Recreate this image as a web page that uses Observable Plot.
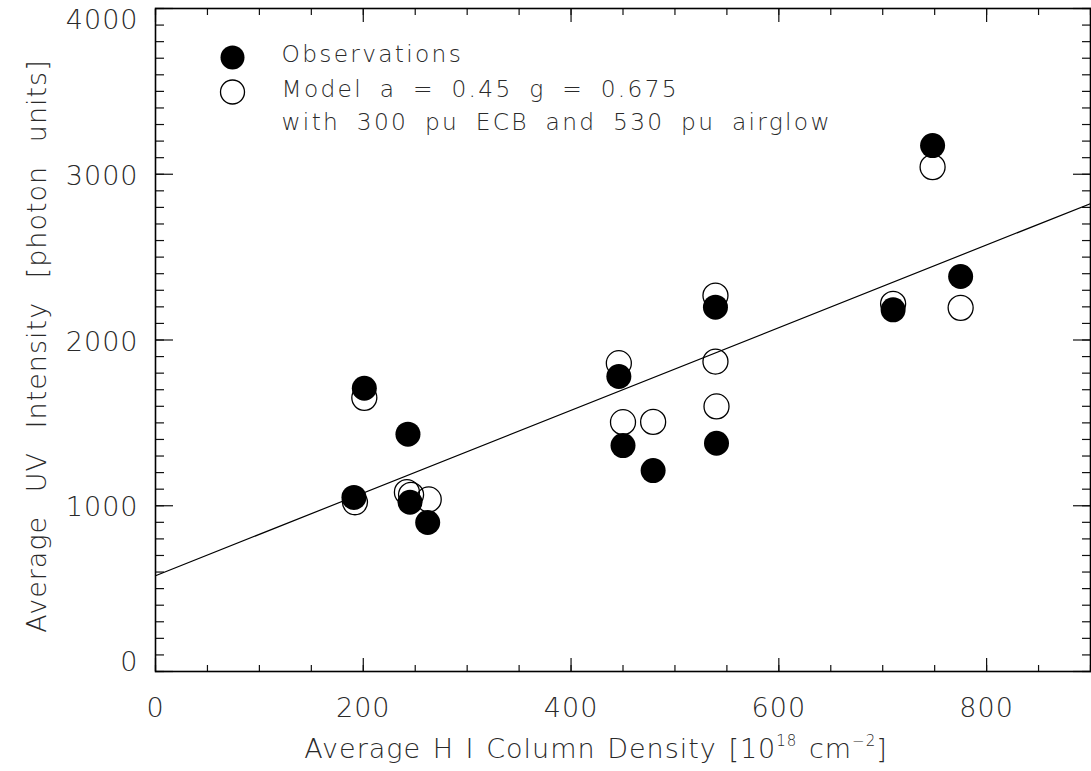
<!DOCTYPE html>
<html><head><meta charset="utf-8">
<script src="https://cdn.jsdelivr.net/npm/d3@7"></script>
<script src="https://cdn.jsdelivr.net/npm/@observablehq/plot@0.6"></script>
<style>body{margin:0;background:#fff}</style>
</head><body><div id="chart"></div>
<script>
// Observations (filled circles)
const obsX = [191, 201, 243, 245, 262, 446, 450, 479, 539, 540, 710, 748, 775];
const obsY = [1050, 1709, 1432, 1021, 899, 1780, 1363, 1212, 2198, 1377, 2182, 3173, 2383];
// Model a = 0.45 g = 0.675 (open circles)
const modelX = [192, 201, 242, 246, 263, 446, 450, 479, 539, 539, 540, 710, 748, 775];
const modelY = [1021, 1651, 1082, 1066, 1038, 1860, 1504, 1506, 2268, 1870, 1599, 2218, 3043, 2194];
// Fitted line
const lineX = [0, 900];
const lineY = [578, 2823];
// Ticks
const xMajor = [0, 200, 400, 600, 800];
const xMinor = d3.range(0, 901, 50);
const yMajor = [0, 1000, 2000, 3000, 4000];
const yMinor = d3.range(0, 4001, 100);
const xTickLabels = ["0", "200", "400", "600", "800"];
const yTickLabels = ["0", "1000", "2000", "3000", "4000"];
// Texts
const xTitle = "Average H I Column Density [10^18 cm^-2]";
const yTitle = "Average UV Intensity [photon units]";
const legendLabels = ["Observations", "Model a = 0.45 g = 0.675\nwith 300 pu ECB and 530 pu airglow"];

const obs = obsX.map((x, i) => ({x, y: obsY[i]}));
const model = modelX.map((x, i) => ({x, y: modelY[i]}));
const fit = lineX.map((x, i) => ({x, y: lineY[i]}));
const fmtX = d => xTickLabels[xMajor.indexOf(d)];
const fmtY = d => yTickLabels[yMajor.indexOf(d)];

const FONT = "DejaVu Sans";
const INK = "#2a2a2a";
const common = {label: null, fontSize: 27, fontWeight: 200, fontFamily: FONT, fill: INK};

const chart = Plot.plot({
  width: 1091, height: 771,
  marginLeft: 155, marginRight: 1, marginTop: 8, marginBottom: 100,
  x: {domain: [0, 900]},
  y: {domain: [0, 4000]},
  style: {fontFamily: FONT, background: "#fff", color: "#111"},
  marks: [
    // tick marks (inward)
    Plot.axisX({anchor: "bottom", ticks: xMinor, tickSize: -6, text: null, label: null, strokeWidth: 1.2}),
    Plot.axisX({anchor: "bottom", ticks: xMajor, tickSize: -13, text: null, label: null, strokeWidth: 1.2}),
    Plot.axisX({anchor: "top", ticks: xMinor, tickSize: -6, text: null, label: null, strokeWidth: 1.2}),
    Plot.axisX({anchor: "top", ticks: xMajor, tickSize: -13, text: null, label: null, strokeWidth: 1.2}),
    Plot.axisY({anchor: "left", ticks: yMinor, tickSize: -9, text: null, label: null, strokeWidth: 1.2}),
    Plot.axisY({anchor: "left", ticks: yMajor, tickSize: -18, text: null, label: null, strokeWidth: 1.2}),
    Plot.axisY({anchor: "right", ticks: yMinor, tickSize: -9, text: null, label: null, strokeWidth: 1.2}),
    Plot.axisY({anchor: "right", ticks: yMajor, tickSize: -18, text: null, label: null, strokeWidth: 1.2}),
    // tick labels
    Plot.axisX({anchor: "bottom", ticks: xMajor, tickSize: 0, tickPadding: 26, tickFormat: fmtX, ...common}),
    Plot.axisY({anchor: "left", ticks: yMajor.slice(1, 4), tickSize: 0, tickPadding: 17, tickFormat: fmtY, dy: 2, ...common}),
    Plot.axisY({anchor: "left", ticks: [yMajor[0]], tickSize: 0, tickPadding: 17, tickFormat: fmtY, dy: -9, ...common}),
    Plot.axisY({anchor: "left", ticks: [yMajor[4]], tickSize: 0, tickPadding: 17, tickFormat: fmtY, dy: 12, ...common}),
    Plot.frame({stroke: "#000", strokeWidth: 1.6}),
    // fitted line
    Plot.line(fit, {x: "x", y: "y", stroke: "#000", strokeWidth: 1.2, clip: true}),
    // data
    Plot.dot(model, {x: "x", y: "y", r: 12.5, stroke: "#000", strokeWidth: 1.3, fill: "none"}),
    Plot.dot(obs, {x: "x", y: "y", r: 12.5, fill: "#000", stroke: "none"}),
    // legend
    Plot.dot([legendLabels[0]], {frameAnchor: "top-left", dx: 77, dy: 49, r: 12, fill: "#000"}),
    Plot.dot([legendLabels[1]], {frameAnchor: "top-left", dx: 77, dy: 83.5, r: 12, stroke: "#000", strokeWidth: 1.3, fill: "none"}),
    Plot.text([legendLabels[0]], {text: d => d, frameAnchor: "top-left", dx: 126, dy: 53.7, textAnchor: "start", lineAnchor: "bottom", fontSize: 23.3, fontWeight: 200, fill: INK}),
    Plot.text([legendLabels[1]], {text: d => d, frameAnchor: "top-left", dx: 126, dy: 121.3, textAnchor: "start", lineAnchor: "bottom", lineHeight: 1.4, fontSize: 23.3, fontWeight: 200, fill: INK}),
    // axis titles
    Plot.text([xTitle], {text: d => d, frameAnchor: "bottom", dx: -27, dy: 86, textAnchor: "middle", lineAnchor: "bottom", fontSize: 27, fontWeight: 200, fill: INK}),
    Plot.text([yTitle], {text: d => d, frameAnchor: "left", rotate: -90, dx: -110, dy: 6, textAnchor: "middle", lineAnchor: "bottom", fontSize: 27, fontWeight: 200, fill: INK})
  ]
});

const svg = d3.select(chart);
// letter spacing per text group
svg.selectAll("text").each(function() {
  const fs = +this.getAttribute("font-size") || +(this.parentNode.getAttribute("font-size")) || 27;
  if (fs < 25) { this.style.letterSpacing = "2.3px"; this.style.wordSpacing = "7px"; }
  else { this.style.letterSpacing = "1px"; this.style.wordSpacing = "14px"; }
});
// superscripts in x title
svg.selectAll("text").filter(function() { return this.textContent === xTitle; }).each(function() {
  this.style.wordSpacing = "2px";
  const t = d3.select(this);
  t.text(null);
  t.append("tspan").text("Average H I Column Density [10");
  t.append("tspan").attr("dy", -12).attr("font-size", 15).text("18");
  t.append("tspan").attr("dy", 12).text(" cm");
  t.append("tspan").attr("dy", -12).attr("font-size", 15).text("\u22122");
  t.append("tspan").attr("dy", 12).text("]");
});
document.getElementById("chart").appendChild(chart);
</script>
</body></html>
